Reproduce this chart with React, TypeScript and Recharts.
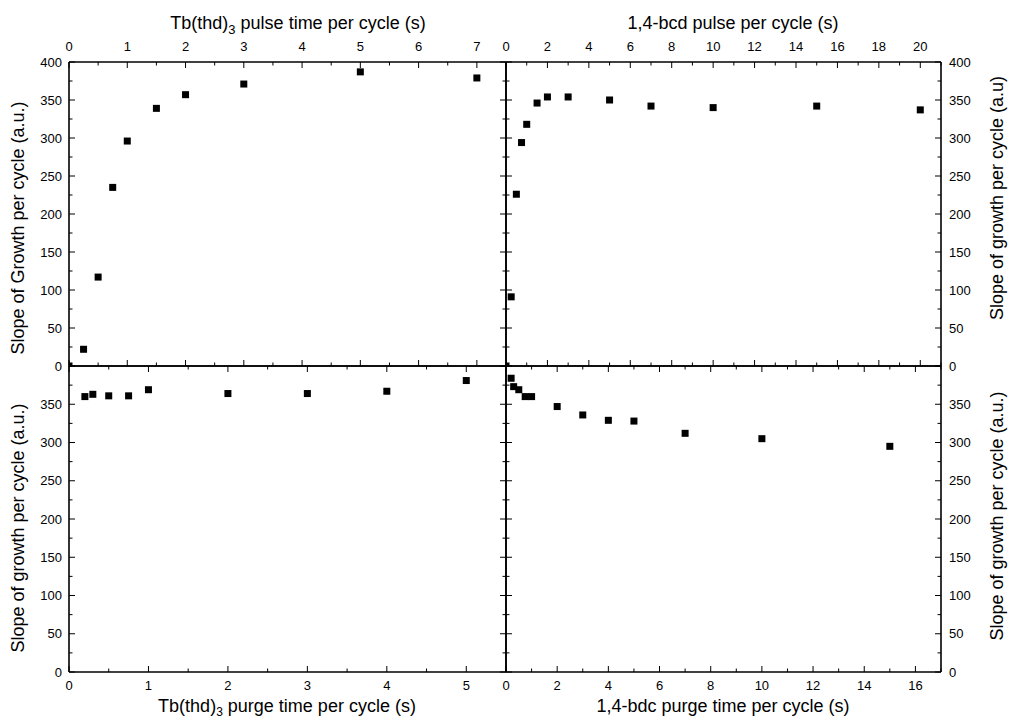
import { ScatterChart, Scatter, XAxis, YAxis } from "recharts";

// Tb(thd)3 pulse time per cycle (top left)
const tbPulseX = [0, 0.25, 0.5, 0.75, 1, 1.5, 2, 3, 5, 7];
const tbPulseY = [0, 22, 117, 235, 296, 339, 357, 371, 387, 379];

// 1,4-bcd pulse per cycle (top right)
const bdcPulseX = [0, 0.25, 0.5, 0.75, 1, 1.5, 2, 3, 5, 7, 10, 15, 20];
const bdcPulseY = [0, 91, 226, 294, 318, 346, 354, 354, 350, 342, 340, 342, 337];

// Tb(thd)3 purge time per cycle (bottom left)
const tbPurgeX = [0.2, 0.3, 0.5, 0.75, 1, 2, 3, 4, 5];
const tbPurgeY = [360, 363, 361, 361, 369, 364, 364, 367, 381];

// 1,4-bdc purge time per cycle (bottom right)
const bdcPurgeX = [0.2, 0.3, 0.5, 0.75, 1, 2, 3, 4, 5, 7, 10, 15];
const bdcPurgeY = [384, 373, 369, 360, 360, 347, 336, 329, 328, 312, 305, 295];

// tick labels
const tbPulseTicks = [0, 1, 2, 3, 4, 5, 6, 7];
const bdcPulseTicks = [0, 2, 4, 6, 8, 10, 12, 14, 16, 18, 20];
const tbPurgeTicks = [0, 1, 2, 3, 4, 5];
const bdcPurgeTicks = [0, 2, 4, 6, 8, 10, 12, 14, 16];
const slopeTicksTop = [0, 50, 100, 150, 200, 250, 300, 350, 400];
const slopeTicksBottom = [0, 50, 100, 150, 200, 250, 300, 350];

const W = 1011;
const H = 720;
const FONT = '"Liberation Sans", Arial, Helvetica, sans-serif';
const AX = 30; // room reserved for each axis

const steps = (max: number, step: number) => {
  const out: number[] = [];
  for (let v = 0; v <= max + 1e-9; v += step) out.push(+v.toFixed(4));
  return out;
};

const toPoints = (xs: number[], ys: number[]) => xs.map((x, i) => ({ x, y: ys[i] }));

const Square = (props: any) => {
  const { cx, cy } = props;
  if (cx == null || cy == null) return <g />;
  return <rect x={cx - 3.5} y={cy - 3.5} width={7} height={7} fill="#000" />;
};

const lineStyle = { stroke: "#000", strokeWidth: 1.6 };

// inward tick mark (+ optional label) drawn at the library's tick coordinate
function edgeTick(side: string, edge: number, majors: number[], labels: number[]) {
  return (props: any) => {
    const { x, y, payload } = props;
    const v = payload.value;
    const len = majors.includes(v) ? 6 : 3.5;
    const show = labels.includes(v);
    const txt = { fontSize: 13, fill: "#000" };
    if (side === "top" || side === "bottom") {
      const dir = side === "top" ? 1 : -1;
      return (
        <g>
          <line x1={x} x2={x} y1={edge} y2={edge + dir * len} stroke="#000" strokeWidth={1} />
          {show && (
            <text x={x} y={side === "top" ? edge - 11 : edge + 18} textAnchor="middle" {...txt}>
              {v}
            </text>
          )}
        </g>
      );
    }
    const dir = side === "left" ? 1 : -1;
    return (
      <g>
        <line x1={edge} x2={edge + dir * len} y1={y} y2={y} stroke="#000" strokeWidth={1} />
        {show && (
          <text
            x={side === "left" ? edge - 7 : edge + 8}
            y={y + 4.6}
            textAnchor={side === "left" ? "end" : "start"}
            {...txt}
          >
            {v}
          </text>
        )}
      </g>
    );
  };
}

interface PanelProps {
  data: { x: number; y: number }[];
  box: { left: number; top: number; right: number; bottom: number };
  xMax: number;
  xTicks: number[];
  xMinorStep: number;
  xSide: "top" | "bottom";
  yTicks: number[];
  ySide: "left" | "right";
}

function Panel({ data, box, xMax, xTicks, xMinorStep, xSide, yTicks, ySide }: PanelProps) {
  const xDomain = [0, xMax];
  const yDomain = [0, 400];
  const yMajor = steps(400, 50);
  const yMinor = steps(400, 25);
  const xMinor = steps(xMax, xMinorStep);
  const margin = {
    top: box.top - AX,
    bottom: H - box.bottom - AX,
    left: box.left - AX,
    right: W - box.right - AX,
  };
  const xAxis = (side: "top" | "bottom") => (
    <XAxis
      xAxisId={side}
      type="number"
      dataKey="x"
      domain={xDomain}
      allowDataOverflow
      orientation={side}
      ticks={xMinor}
      interval={0}
      height={AX}
      tickLine={false}
      axisLine={lineStyle}
      tick={edgeTick(side, side === "top" ? box.top : box.bottom, xTicks, side === xSide ? xTicks : [])}
    />
  );
  const yAxis = (side: "left" | "right") => (
    <YAxis
      yAxisId={side}
      type="number"
      dataKey="y"
      domain={yDomain}
      allowDataOverflow
      orientation={side}
      ticks={yMinor}
      interval={0}
      width={AX}
      tickLine={false}
      axisLine={lineStyle}
      tick={edgeTick(side, side === "left" ? box.left : box.right, yMajor, side === ySide ? yTicks : [])}
    />
  );
  return (
    <div style={{ position: "absolute", left: 0, top: 0 }}>
      <ScatterChart width={W} height={H} margin={margin}>
        {xAxis("top")}
        {xAxis("bottom")}
        {yAxis("left")}
        {yAxis("right")}
        <Scatter
          data={data}
          xAxisId={xSide}
          yAxisId={ySide}
          fill="#000"
          shape={Square}
          isAnimationActive={false}
        />
      </ScatterChart>
    </div>
  );
}

export default function App() {
  const titleStyle = { fontSize: 18, fill: "#000" };
  return (
    <div
      style={{
        position: "absolute",
        left: 0,
        top: 0,
        width: W,
        height: H,
        background: "#fff",
        fontFamily: FONT,
        overflow: "hidden",
      }}
    >
      <Panel
        data={toPoints(tbPulseX, tbPulseY)}
        box={{ left: 69, top: 62, right: 506, bottom: 366 }}
        xMax={7.5}
        xTicks={tbPulseTicks}
        xMinorStep={0.5}
        xSide="top"
        yTicks={slopeTicksTop}
        ySide="left"
      />
      <Panel
        data={toPoints(bdcPulseX, bdcPulseY)}
        box={{ left: 506, top: 62, right: 941, bottom: 366 }}
        xMax={21}
        xTicks={bdcPulseTicks}
        xMinorStep={1}
        xSide="top"
        yTicks={slopeTicksTop}
        ySide="right"
      />
      <Panel
        data={toPoints(tbPurgeX, tbPurgeY)}
        box={{ left: 69, top: 366, right: 506, bottom: 672 }}
        xMax={5.5}
        xTicks={tbPurgeTicks}
        xMinorStep={0.5}
        xSide="bottom"
        yTicks={slopeTicksBottom}
        ySide="left"
      />
      <Panel
        data={toPoints(bdcPurgeX, bdcPurgeY)}
        box={{ left: 506, top: 366, right: 941, bottom: 672 }}
        xMax={17}
        xTicks={bdcPurgeTicks}
        xMinorStep={1}
        xSide="bottom"
        yTicks={slopeTicksBottom}
        ySide="right"
      />
      <svg
        width={W}
        height={H}
        style={{ position: "absolute", left: 0, top: 0, pointerEvents: "none" }}
      >
        <text x={298} y={29} textAnchor="middle" {...titleStyle}>
          Tb(thd)<tspan dy={5} fontSize={13}>3</tspan>
          <tspan dy={-5}> pulse time per cycle (s)</tspan>
        </text>
        <text x={733} y={29} textAnchor="middle" {...titleStyle}>
          1,4-bcd pulse per cycle (s)
        </text>
        <text x={287} y={712} textAnchor="middle" {...titleStyle}>
          Tb(thd)<tspan dy={4} fontSize={12}>3</tspan>
          <tspan dy={-4}> purge time per cycle (s)</tspan>
        </text>
        <text x={723} y={712} textAnchor="middle" {...titleStyle}>
          1,4-bdc purge time per cycle (s)
        </text>
        <text x={24} y={228} textAnchor="middle" transform="rotate(-90 24 228)" {...titleStyle}>
          Slope of Growth per cycle (a.u.)
        </text>
        <text x={24} y={528} textAnchor="middle" transform="rotate(-90 24 528)" {...titleStyle}>
          Slope of growth per cycle (a.u.)
        </text>
        <text x={1003} y={198} textAnchor="middle" transform="rotate(-90 1003 198)" {...titleStyle}>
          Slope of growth per cycle (a.u)
        </text>
        <text x={1003} y={516} textAnchor="middle" transform="rotate(-90 1003 516)" {...titleStyle}>
          Slope of growth per cycle (a.u.)
        </text>
      </svg>
    </div>
  );
}
